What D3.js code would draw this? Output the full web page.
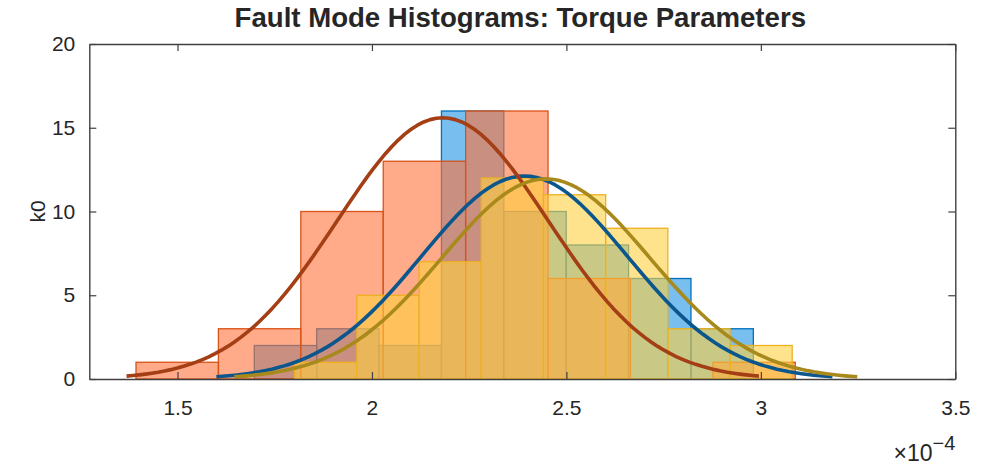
<!DOCTYPE html>
<html>
<head>
<meta charset="utf-8">
<script src="https://cdn.jsdelivr.net/npm/d3@7"></script>
<style>
  body { margin: 0; background: #fff; }
  svg { display: block; }
  text { font-family: "Liberation Sans", Arial, Helvetica, sans-serif; fill: #262626; }
</style>
</head>
<body>
<div id="chart"></div>
<script>
// Histogram bins for each fault mode (torque parameter k0, units of 1e-4)
const modeNames   = ["blue", "orange", "yellow"];
const binStarts   = [1.6975, 1.3933, 1.8014];
const binWidths   = [0.1604, 0.2119, 0.1599];
const countsBlue   = [2, 3, 2, 16, 10, 8, 6, 3];
const countsOrange = [1, 3, 10, 13, 16, 6, 0, 1];
const countsYellow = [1, 5, 7, 12, 11, 9, 3, 2];
// Normal fit of each mode (mean, standard deviation)
const fitMu    = [2.392, 2.182, 2.447];
const fitSigma = [0.264, 0.271, 0.267];
// Axis ticks
const xTicks = [1.5, 2, 2.5, 3, 3.5];
const xTickLabels = ["1.5", "2", "2.5", "3", "3.5"];
const yTicks = [0, 5, 10, 15, 20];
const yTickLabels = ["0", "5", "10", "15", "20"];

const fillColors = ["#1e93e3", "#ff7139", "#ffd03f"];
const edgeColors = ["#0072bd", "#d95319", "#edb120"];
const curveColors = ["#0b568c", "#a33e15", "#a8891c"];

const W = 984, H = 469;
const box = { left: 89.3, right: 955.3, top: 44, bottom: 379 };

const svg = d3.select("#chart").append("svg")
  .attr("width", W).attr("height", H);

const x = d3.scaleLinear().domain([1.2732, 3.5]).range([box.left, box.right]);
const y = d3.scaleLinear().domain([0, 20]).range([box.bottom, box.top]);

const allCounts = [countsBlue, countsOrange, countsYellow];

// Bars
const barLayer = svg.append("g");
allCounts.forEach((counts, s) => {
  const bins = counts.map((c, i) => ({
    x0: binStarts[s] + i * binWidths[s],
    x1: binStarts[s] + (i + 1) * binWidths[s],
    c
  })).filter(d => d.c > 0);
  barLayer.append("g").attr("class", "mode-" + modeNames[s])
    .selectAll("rect").data(bins).join("rect")
    .attr("x", d => x(d.x0))
    .attr("width", d => x(d.x1) - x(d.x0))
    .attr("y", d => y(d.c))
    .attr("height", d => y(0) - y(d.c))
    .attr("fill", fillColors[s])
    .attr("fill-opacity", 0.6)
    .attr("stroke", edgeColors[s])
    .attr("stroke-width", 1.3);
});

// Fitted normal curves, scaled to histogram area, drawn over mu +/- 3 sigma
const line = d3.line().x(d => x(d[0])).y(d => y(d[1]));
allCounts.forEach((counts, s) => {
  const n = d3.sum(counts);
  const area = n * binWidths[s];
  const mu = fitMu[s], sd = fitSigma[s];
  const pts = d3.range(0, 101).map(k => {
    const v = mu - 3 * sd + (6 * sd) * k / 100;
    const z = (v - mu) / sd;
    return [v, area * Math.exp(-0.5 * z * z) / (sd * Math.sqrt(2 * Math.PI))];
  });
  svg.append("path").datum(pts)
    .attr("d", line)
    .attr("fill", "none")
    .attr("stroke", curveColors[s])
    .attr("stroke-width", 3.6)
    .attr("stroke-linejoin", "round");
});

// Axes box with inward ticks
const axisColor = "#404040";
function styleAxis(g) {
  g.selectAll("path.domain").attr("stroke", axisColor).attr("stroke-width", 1.4);
  g.selectAll(".tick line").attr("stroke", axisColor).attr("stroke-width", 1.2);
  g.selectAll(".tick text").attr("fill", "#262626").style("font-size", "21px")
    .style("font-family", '"Liberation Sans", Arial, sans-serif');
}

svg.append("g").attr("transform", `translate(0,${box.bottom})`)
  .call(d3.axisBottom(x).tickValues(xTicks).tickFormat((d, i) => xTickLabels[i])
    .tickSizeInner(-7).tickSizeOuter(0).tickPadding(21))
  .call(styleAxis);
svg.append("g").attr("transform", `translate(0,${box.top})`)
  .call(d3.axisTop(x).tickValues(xTicks).tickFormat("")
    .tickSizeInner(-7).tickSizeOuter(0))
  .call(styleAxis);
svg.append("g").attr("transform", `translate(${box.left},0)`)
  .call(d3.axisLeft(y).tickValues(yTicks).tickFormat((d, i) => yTickLabels[i])
    .tickSizeInner(-7).tickSizeOuter(0).tickPadding(14))
  .call(styleAxis);
svg.append("g").attr("transform", `translate(${box.right},0)`)
  .call(d3.axisRight(y).tickValues(yTicks).tickFormat("")
    .tickSizeInner(-7).tickSizeOuter(0))
  .call(styleAxis);

// Exponent label
const expo = svg.append("text")
  .attr("x", box.right).attr("y", 461)
  .attr("text-anchor", "end")
  .style("font-size", "23px");
expo.append("tspan").text("\u00d710");
expo.append("tspan").attr("dy", -11).style("font-size", "20px").text("\u22124");

// Y label
svg.append("text")
  .attr("transform", `translate(45,${(box.top + box.bottom) / 2}) rotate(-90)`)
  .attr("text-anchor", "middle")
  .style("font-size", "21px")
  .text("k0");

// Title
svg.append("text")
  .attr("x", (box.left + box.right) / 2 - 2).attr("y", 27)
  .attr("text-anchor", "middle")
  .style("font-size", "27.6px").style("font-weight", "bold")
  .attr("fill", "#000")
  .text("Fault Mode Histograms: Torque Parameters");
</script>
</body>
</html>
